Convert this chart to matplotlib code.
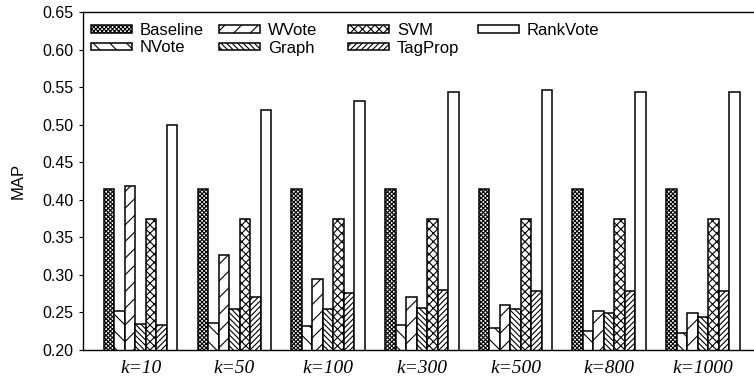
import matplotlib
matplotlib.use("Agg")
import matplotlib.pyplot as plt
from matplotlib.legend import Legend
import numpy as np

categories = ["k=10", "k=50", "k=100", "k=300", "k=500", "k=800", "k=1000"]
series_names = ["Baseline", "NVote", "WVote", "Graph", "SVM", "TagProp", "RankVote"]
baseline = [0.415, 0.415, 0.415, 0.415, 0.415, 0.415, 0.415]
nvote    = [0.252, 0.236, 0.232, 0.233, 0.229, 0.225, 0.223]
wvote    = [0.418, 0.326, 0.295, 0.271, 0.260, 0.252, 0.249]
graph    = [0.234, 0.254, 0.254, 0.256, 0.255, 0.249, 0.244]
svm      = [0.375, 0.375, 0.375, 0.375, 0.375, 0.375, 0.375]
tagprop  = [0.233, 0.270, 0.276, 0.280, 0.279, 0.278, 0.278]
rankvote = [0.499, 0.520, 0.532, 0.543, 0.546, 0.544, 0.543]
y_ticks = [0.20, 0.25, 0.30, 0.35, 0.40, 0.45, 0.50, 0.55, 0.60, 0.65]

values = [baseline, nvote, wvote, graph, svm, tagprop, rankvote]
hatches = ["xxxxxxxx", "\\\\", "//", "\\\\\\\\\\\\", "xxxx", "//////", ""]

plt.rcParams["hatch.linewidth"] = 0.8
plt.rcParams["font.family"] = ["Liberation Sans", "DejaVu Sans"]

W, H = 754, 376
fig = plt.figure(figsize=(W / 100, H / 100), dpi=100)
ax = fig.add_axes([83 / W, 1 - 350 / H, 1 - 83 / W, (350 - 12) / H])

x = np.arange(len(categories))
w = 0.112
n = len(values)
handles = []
for i, (name, vals, h) in enumerate(zip(series_names, values, hatches)):
    offs = (i - (n - 1) / 2) * w
    bc = ax.bar(x + offs, vals, width=w, bottom=0, facecolor="white", edgecolor="black",
                linewidth=1.1, hatch=h, label=name, zorder=2)
    handles.append(bc)

ax.set_ylim(0.20, 0.65)
ax.set_xlim(-0.616, 6.546)
ax.set_yticks(y_ticks)
ax.set_yticklabels([f"{t:.2f}" for t in y_ticks], fontsize=11.5)
ax.set_xticks(x)
ax.set_xticklabels(categories, fontsize=14, family=["Liberation Serif"], style="italic")
ax.tick_params(axis="x", length=0, pad=7)
ax.tick_params(axis="y", direction="out", length=3, width=0.8, pad=4)
ax.spines["right"].set_visible(False)
for s in ["left", "bottom", "top"]:
    ax.spines[s].set_linewidth(1.0)
ax.set_ylabel("MAP", fontsize=12, labelpad=12)

# legend laid out in 4 columns like the reference
fs = 12
px = fs * 100 / 72
columns = [[0, 1], [2, 3], [4, 5], [6]]
col_x = [91, 219, 348, 478]
for cols, cx in zip(columns, col_x):
    leg = Legend(ax, [handles[j] for j in cols], [series_names[j] for j in cols],
                 loc="upper left", bbox_to_anchor=(cx / W, 1 - 23 / H),
                 bbox_transform=fig.transFigure, frameon=False, fontsize=fs,
                 handlelength=41 / px, handleheight=0.35, handletextpad=8 / px,
                 labelspacing=0.15, borderpad=0.0, borderaxespad=0.0)
    ax.add_artist(leg)

fig.savefig("out.png", dpi=100)
